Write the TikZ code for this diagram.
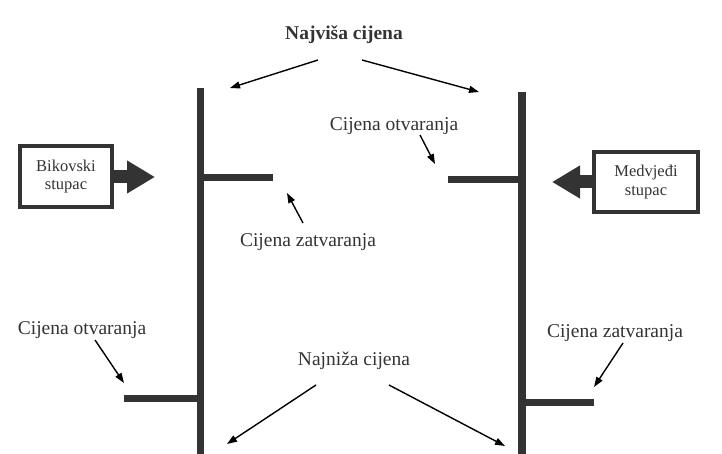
\documentclass[tikz,border=0pt]{standalone}
\usepackage{fontspec}
\setmainfont{Liberation Serif}
\usetikzlibrary{arrows.meta}
\definecolor{ink}{HTML}{333333}
\definecolor{thin}{HTML}{404040}
\tikzset{
  lbl/.style={inner sep=0pt, text=ink, font=\fontsize{19.5}{22}\selectfont},
  boxnode/.style={draw=ink, line width=4pt, minimum width=92pt, minimum height=61pt, inner sep=0pt, align=center, text=ink, font=\fontsize{16.5}{18.5}\selectfont},
  pointer/.style={thin, line width=1.4pt, -{Triangle[length=10pt,width=7pt]}},
  fat/.style={ink, line width=13pt, -{Triangle[length=28pt,width=31pt]}},
  bar/.style={ink, line width=7pt},
}
\begin{document}
\begin{tikzpicture}[x=1pt,y=-1pt]
\useasboundingbox (0,0) rectangle (722,454);
% candlestick bars
\coordinate (Ltop) at (200,88);
\coordinate (Lbot) at (200,454);
\coordinate (Rtop) at (522,92);
\coordinate (Rbot) at (522,454);
\draw[bar] (Ltop) -- (Lbot);
\draw[bar, line width=8pt] (Rtop) -- (Rbot);
\coordinate (Lc0) at (203,178); \coordinate (Lc1) at (273,178);
\coordinate (Ro0) at (448,180); \coordinate (Ro1) at (522,180);
\coordinate (Lo0) at (124,398); \coordinate (Lo1) at (198,398);
\coordinate (Rc0) at (522,402); \coordinate (Rc1) at (594,402);
\draw[bar] (Lc0) -- (Lc1);
\draw[bar] (Ro0) -- (Ro1);
\draw[bar] (Lo0) -- (Lo1);
\draw[bar] (Rc0) -- (Rc1);
% labels
\node[lbl, font=\fontsize{19.5}{22}\selectfont\bfseries] (high) at (344,35) {Najviša cijena};
\node[lbl] (openR) at (394,126) {Cijena otvaranja};
\node[lbl] (closeL) at (308,242) {Cijena zatvaranja};
\node[lbl] (openL) at (82,330) {Cijena otvaranja};
\node[lbl] (closeR) at (615,333) {Cijena zatvaranja};
\node[lbl] (low) at (354,361) {Najniža cijena};
% boxes
\node[boxnode] (bull) at (66,176.5) {Bikovski\\stupac};
\node[boxnode, minimum width=104pt, minimum height=60pt] (bear) at (646,182) {Medvjeđi\\stupac};
\coordinate (bullTip) at (155,177);
\coordinate (bearTip) at (552,182);
\draw[fat] (bull.east |- bullTip) -- (bullTip);
\draw[fat] (bear.west |- bearTip) -- (bearTip);
% pointer arrows
\coordinate (h1s) at (318,60); \coordinate (h1e) at (230,88);
\coordinate (h2s) at (362,60); \coordinate (h2e) at (479,92);
\coordinate (o1s) at (420,135); \coordinate (o1e) at (435,164);
\coordinate (c1s) at (303,223); \coordinate (c1e) at (287,193);
\coordinate (o2s) at (95,340); \coordinate (o2e) at (124,383);
\coordinate (c2s) at (623,343); \coordinate (c2e) at (594,387);
\coordinate (l1s) at (316,385); \coordinate (l1e) at (227,444);
\coordinate (l2s) at (389,385); \coordinate (l2e) at (505,446);
\draw[pointer] (h1s) -- (h1e);
\draw[pointer] (h2s) -- (h2e);
\draw[pointer] (o1s) -- (o1e);
\draw[pointer] (c1s) -- (c1e);
\draw[pointer] (o2s) -- (o2e);
\draw[pointer] (c2s) -- (c2e);
\draw[pointer] (l1s) -- (l1e);
\draw[pointer] (l2s) -- (l2e);
\end{tikzpicture}
\end{document}
